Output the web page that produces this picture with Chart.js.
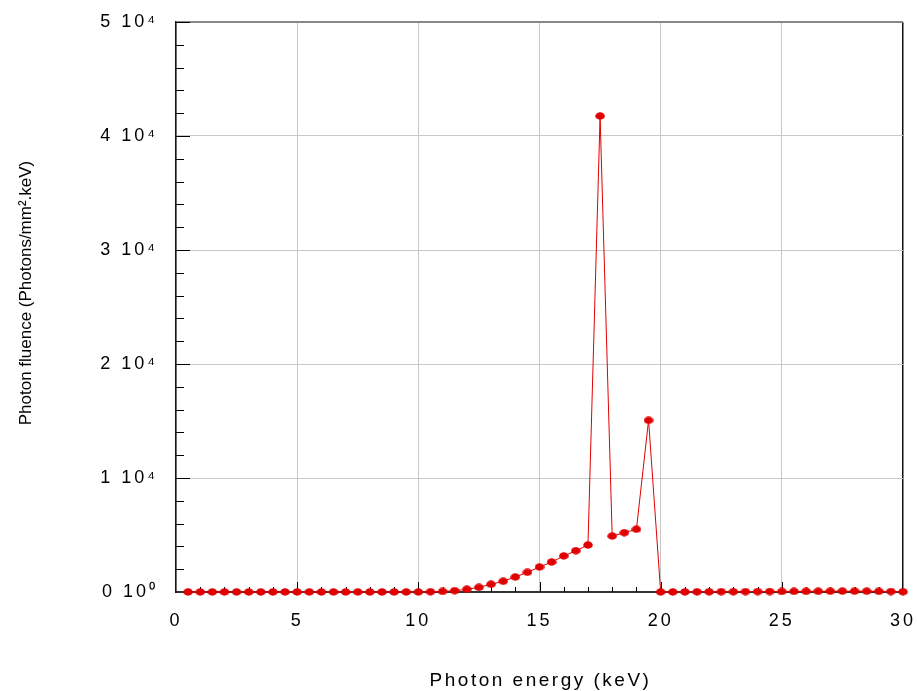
<!DOCTYPE html>
<html>
<head>
    <title>Photon spectrum</title>
    <script src="https://cdn.jsdelivr.net/npm/chart.js"></script>
    <style>
        body { margin: 0; background: #fff; }
    </style>
</head>
<body>
    <canvas id="spectrumChart" width="918" height="691"></canvas>

    <script>
        // photon energy (keV), one point every 0.5 keV
        const energies = [
            0.5, 1, 1.5, 2, 2.5, 3, 3.5, 4, 4.5, 5,
            5.5, 6, 6.5, 7, 7.5, 8, 8.5, 9, 9.5, 10,
            10.5, 11, 11.5, 12, 12.5, 13, 13.5, 14, 14.5, 15,
            15.5, 16, 16.5, 17, 17.5, 18, 18.5, 19, 19.5, 20,
            20.5, 21, 21.5, 22, 22.5, 23, 23.5, 24, 24.5, 25,
            25.5, 26, 26.5, 27, 27.5, 28, 28.5, 29, 29.5, 30
        ];
        // photon fluence (photons/mm2.keV)
        const fluence = [
            0, 0, 0, 0, 0, 0, 0, 0, 0, 0,
            0, 0, 0, 0, 0, 0, 0, 0, 0, 0,
            20, 50, 115, 240, 410, 675, 940, 1315, 1730, 2190,
            2630, 3160, 3620, 4120, 41750, 4910, 5200, 5500, 15060, 0,
            5, 10, 15, 20, 25, 25, 30, 35, 40, 45,
            50, 60, 65, 70, 75, 75, 70, 60, 40, 20
        ];
        const xTicks = [0, 5, 10, 15, 20, 25, 30];
        const yTickLabels = ['0 10\u2070', '1 10\u2074', '2 10\u2074', '3 10\u2074', '4 10\u2074', '5 10\u2074'];

        const red = '#e00000';
        const fontFamily = '"Liberation Sans", Arial, sans-serif';

        // slightly flattened dot, like the original markers
        const marker = document.createElement('canvas');
        marker.width = 10;
        marker.height = 8;
        const mctx = marker.getContext('2d');
        mctx.fillStyle = red;
        mctx.beginPath();
        mctx.ellipse(5, 4, 4.8, 3.7, 0, 0, Math.PI * 2);
        mctx.fill();

        // inward tick marks, wide tick lettering, axis titles
        const frame = {
            id: 'frame',
            beforeDraw(chart) {
                chart.ctx.letterSpacing = '3px';
            },
            beforeDatasetsDraw(chart) {
                const { ctx, chartArea: a, scales: { x, y } } = chart;
                ctx.save();
                ctx.strokeStyle = '#000';
                ctx.lineWidth = 1;
                ctx.beginPath();
                for (let v = 1; v < 30; v++) {
                    const px = Math.round(x.getPixelForValue(v)) + 0.5;
                    ctx.moveTo(px, a.bottom);
                    ctx.lineTo(px, a.bottom - (v % 5 ? 5 : 10));
                }
                for (let v = 2000; v <= 50000; v += 2000) {
                    const py = Math.round(y.getPixelForValue(v)) + 0.5;
                    ctx.moveTo(a.left, py);
                    ctx.lineTo(a.left + (v % 10000 ? 8 : 14), py);
                }
                ctx.stroke();
                ctx.restore();
            },
            afterDraw(chart) {
                const { ctx, chartArea: a } = chart;
                ctx.save();
                ctx.fillStyle = '#000';
                ctx.textAlign = 'center';
                ctx.textBaseline = 'alphabetic';
                ctx.font = '19px ' + fontFamily;
                ctx.letterSpacing = '2.5px';
                ctx.fillText('Photon energy (keV)', (a.left + a.right) / 2 + 1, 686);
                ctx.letterSpacing = '0px';
                ctx.font = '17px ' + fontFamily;
                ctx.translate(31, 293);
                ctx.rotate(-Math.PI / 2);
                ctx.fillText('Photon fluence (Photons/mm\u00b2.keV)', 0, 0);
                ctx.restore();
                ctx.letterSpacing = '0px';
            }
        };

        const ctx = document.getElementById('spectrumChart').getContext('2d');
        const chart = new Chart(ctx, {
            type: 'line',
            data: {
                datasets: [{
                    data: energies.map((e, i) => ({ x: e, y: fluence[i] })),
                    borderColor: red,
                    borderWidth: 1,
                    pointStyle: marker,
                    pointRadius: 4,
                    pointBackgroundColor: red,
                    clip: false,
                    tension: 0
                }]
            },
            options: {
                responsive: false,
                animation: false,
                devicePixelRatio: 1,
                layout: { padding: { top: 22, right: 15, left: 0, bottom: 0 } },
                plugins: {
                    legend: { display: false },
                    tooltip: { enabled: false }
                },
                scales: {
                    x: {
                        type: 'linear',
                        min: 0,
                        max: 30,
                        afterBuildTicks: s => { s.ticks = xTicks.map(v => ({ value: v })); },
                        afterFit: s => {
                            s.height = 99;
                            s.paddingLeft = 0;
                            s.paddingRight = 0;
                        },
                        ticks: {
                            color: '#000',
                            padding: 18,
                            maxRotation: 0,
                            font: { family: fontFamily, size: 18 }
                        },
                        grid: {
                            drawTicks: false,
                            color: c => c.tick && c.tick.value === 30 ? '#111' : '#c8c8c8',
                            lineWidth: c => c.tick && c.tick.value === 30 ? 1.5 : 1
                        },
                        border: { color: '#333', width: 2 }
                    },
                    y: {
                        min: 0,
                        max: 50000,
                        afterBuildTicks: s => { s.ticks = yTickLabels.map((t, i) => ({ value: i * 10000 })); },
                        afterFit: s => {
                            s.width = 176;
                            s.paddingTop = 0;
                            s.paddingBottom = 0;
                        },
                        ticks: {
                            color: '#000',
                            padding: 18,
                            font: { family: fontFamily, size: 18 },
                            callback: (v, i) => yTickLabels[i]
                        },
                        grid: {
                            drawTicks: false,
                            color: c => c.tick && c.tick.value === 50000 ? '#888' : '#c8c8c8',
                            lineWidth: c => c.tick && c.tick.value === 50000 ? 2 : 1
                        },
                        border: { color: '#111', width: 1.5 }
                    }
                }
            },
            plugins: [frame]
        });
    </script>
</body>
</html>
